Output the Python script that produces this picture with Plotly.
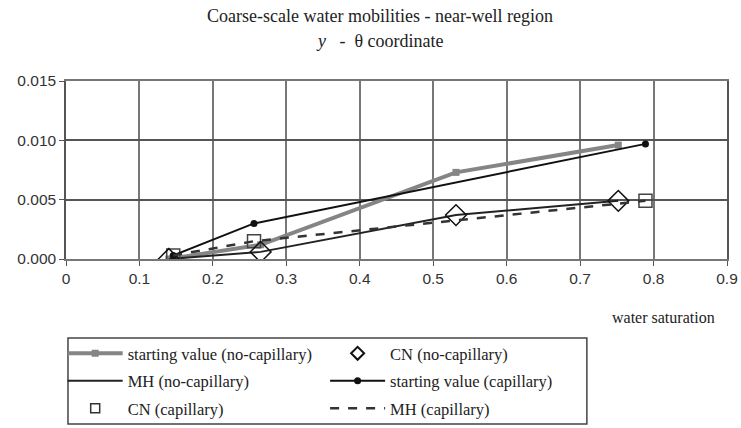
import plotly.graph_objects as go

# Data
x_nocap = [0.14, 0.265, 0.531, 0.752]
sv_nocap = [0.0, 0.0012, 0.0073, 0.0096]
cn_nocap = [0.0, 0.0006, 0.0037, 0.0049]
mh_nocap = [0.0, 0.0006, 0.0037, 0.0049]

x_cap = [0.146, 0.256, 0.789]
sv_cap = [0.0003, 0.0030, 0.0097]
cn_cap = [0.0003, 0.0015, 0.0049]
mh_cap = [0.0003, 0.0015, 0.0049]

x_ticks = [0, 0.1, 0.2, 0.3, 0.4, 0.5, 0.6, 0.7, 0.8, 0.9]
x_ticklabels = ["0", "0.1", "0.2", "0.3", "0.4", "0.5", "0.6", "0.7", "0.8", "0.9"]
y_ticks = [0.0, 0.005, 0.010, 0.015]
y_ticklabels = ["0.000", "0.005", "0.010", "0.015"]

serif = "Liberation Serif"
sans = "Liberation Sans"

# (name, x, y, mode, line, marker(plot), marker(legend), legend column)
series = [
    ("starting value (no-capillary)", x_nocap, sv_nocap, "lines+markers",
     dict(color="#858585", width=4),
     dict(symbol="square", size=7, color="#858585"),
     dict(symbol="square", size=7, color="#858585"), "legend"),
    ("MH (no-capillary)", x_nocap, mh_nocap, "lines",
     dict(color="#222222", width=2), None, None, "legend"),
    ("CN (capillary)", x_cap, cn_cap, "markers", None,
     dict(symbol="square-open", size=13, color="#444444", line=dict(width=1.5)),
     dict(symbol="square-open", size=9, color="#333333", line=dict(width=1.5)), "legend"),
    ("CN (no-capillary)", x_nocap, cn_nocap, "markers", None,
     dict(symbol="diamond-open", size=16, color="#111111", line=dict(width=1.5)),
     dict(symbol="diamond-open", size=10, color="#111111", line=dict(width=2)), "legend2"),
    ("starting value (capillary)", x_cap, sv_cap, "lines+markers",
     dict(color="#111111", width=2),
     dict(symbol="circle", size=7, color="#111111"),
     dict(symbol="circle", size=7, color="#111111"), "legend2"),
    ("MH (capillary)", x_cap, mh_cap, "lines",
     dict(color="#333333", width=2.5, dash="dash"), None, None, "legend2"),
]

fig = go.Figure()
for i, (name, xs, ys, mode, line, mk, lmk, leg) in enumerate(series):
    kw = {}
    if line is not None:
        kw["line"] = line
    if mk is not None:
        kw["marker"] = mk
    fig.add_trace(go.Scatter(x=xs, y=ys, name=name, mode=mode, showlegend=False, **kw))
for i, (name, xs, ys, mode, line, mk, lmk, leg) in enumerate(series):
    kw = {}
    if line is not None:
        kw["line"] = line
    if lmk is not None:
        kw["marker"] = lmk
    fig.add_trace(go.Scatter(x=[None], y=[None], name=name, mode=mode,
                             legend=leg, legendgroup="g%d" % i, **kw))

leg_common = dict(orientation="v", yanchor="top", y=-0.433, xanchor="left",
                  bgcolor="rgba(0,0,0,0)", borderwidth=0,
                  font=dict(family=serif, size=16.5, color="#222222"),
                  tracegroupgap=3, itemwidth=55, itemsizing="trace",
                  traceorder="grouped")

fig.update_layout(
    width=741, height=428,
    margin=dict(l=66, r=14, t=81, b=169, autoexpand=False),
    paper_bgcolor="white", plot_bgcolor="white",
    showlegend=True,
    legend=dict(x=-0.005, **leg_common),
    legend2=dict(x=0.392, **leg_common),
    xaxis=dict(range=[0, 0.9], tickvals=x_ticks, ticktext=x_ticklabels,
               showgrid=True, gridcolor="#777777", gridwidth=1.5,
               showline=True, linecolor="#777777", linewidth=1.5, mirror=True,
               ticks="outside", ticklen=5, tickcolor="#555555",
               zeroline=False,
               tickfont=dict(family=sans, size=15.5, color="#333333")),
    yaxis=dict(range=[0, 0.015], tickvals=y_ticks, ticktext=y_ticklabels,
               showgrid=True, gridcolor="#555555", gridwidth=1.5,
               showline=True, linecolor="#555555", linewidth=1.5, mirror=True,
               ticks="outside", ticklen=5, tickcolor="#555555",
               zeroline=False,
               tickfont=dict(family=sans, size=15.5, color="#333333")),
    shapes=[dict(type="rect", xref="paper", yref="paper",
                 x0=0.003, x1=0.788, y0=-0.927, y1=-0.444,
                 line=dict(color="#444444", width=1.5), fillcolor="rgba(0,0,0,0)")],
    annotations=[
        dict(text="Coarse-scale water mobilities - near-well region",
             xref="paper", yref="paper", x=(380 - 66) / 661, y=(259 - 16) / 178,
             xanchor="center", yanchor="middle", showarrow=False,
             font=dict(family=serif, size=18, color="#222222")),
        dict(text="<i>y</i>   -  θ coordinate",
             xref="paper", yref="paper", x=(380 - 66) / 661, y=(259 - 41) / 178,
             xanchor="center", yanchor="middle", showarrow=False,
             font=dict(family=serif, size=18, color="#222222")),
        dict(text="water saturation", xref="paper", yref="paper",
             x=(717 - 66) / 661, y=(259 - 317) / 178, xanchor="right", yanchor="middle",
             showarrow=False, font=dict(family=serif, size=16, color="#222222")),
    ],
)

fig.write_html("out.html")
